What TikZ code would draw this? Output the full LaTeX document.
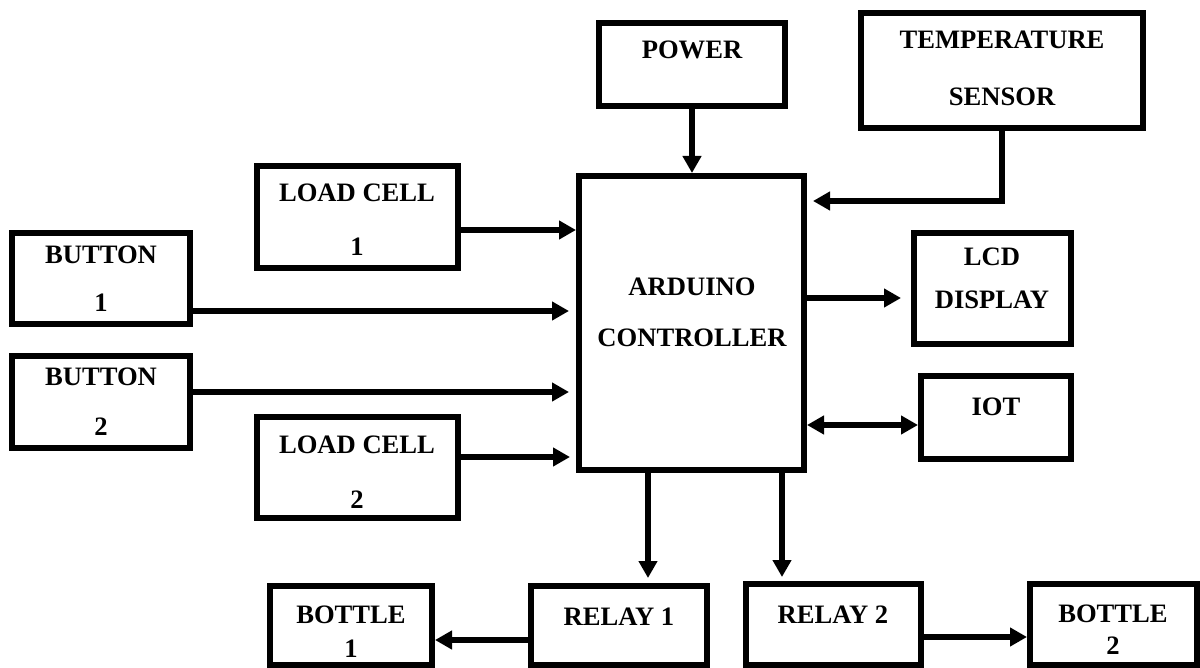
\documentclass[tikz,border=0pt]{standalone}
\usepackage{fontspec}
\setmainfont{Liberation Serif}
\usetikzlibrary{arrows.meta,fit}
\begin{document}
\begin{tikzpicture}[x=0.5pt,y=-0.5pt,
  box/.style={draw=black,line width=3pt,inner sep=0pt,rectangle},
  lbl/.style={font=\fontsize{13.3}{16}\selectfont\bfseries,inner sep=0pt},
  arr/.style={line width=2.8pt,-{Triangle[length=8.5pt,width=9pt]}},
  darr/.style={line width=2.8pt,{Triangle[length=8.5pt,width=9pt]}-{Triangle[length=8.5pt,width=9pt]}}]
\useasboundingbox (0,0) rectangle (1200,668);
% boxes
\node[box,fit={(599,23) (785,106)}] (power) {};
\node[box,fit={(861,13) (1143,128)}] (temp) {};
\node[box,fit={(257,166) (458,268)}] (lc1) {};
\node[box,fit={(12,233) (190,324)}] (btn1) {};
\node[box,fit={(12,356) (190,448)}] (btn2) {};
\node[box,fit={(257,417) (458,518)}] (lc2) {};
\node[box,fit={(579,176) (804,470)}] (ard) {};
\node[box,fit={(914,233) (1071,344)}] (lcd) {};
\node[box,fit={(921,376) (1071,459)}] (iot) {};
\node[box,fit={(531,586) (707,665)}] (relay1) {};
\node[box,fit={(746,584) (921,665)}] (relay2) {};
\node[box,fit={(270,586) (432,665)}] (bottle1) {};
\node[box,fit={(1030,584) (1197,665)}] (bottle2) {};
% texts
\node[lbl] (tpower) at (692,50) {POWER};
\node[lbl] (ttemp1) at (1002,40) {TEMPERATURE};
\node[lbl] (ttemp2) at (1002,97) {SENSOR};
\node[lbl] (tlc1a) at (357,193) {LOAD CELL};
\node[lbl] (tlc1b) at (357,247) {1};
\node[lbl] (tb1a) at (101,255) {BUTTON};
\node[lbl] (tb1b) at (101,303) {1};
\node[lbl] (tb2a) at (101,377) {BUTTON};
\node[lbl] (tb2b) at (101,427) {2};
\node[lbl] (tlc2a) at (357,445) {LOAD CELL};
\node[lbl] (tlc2b) at (357,500) {2};
\node[lbl] (tard1) at (692,287) {ARDUINO};
\node[lbl] (tard2) at (692,338) {CONTROLLER};
\node[lbl] (tlcd1) at (992,257) {LCD};
\node[lbl] (tlcd2) at (992,300) {DISPLAY};
\node[lbl] (tiot) at (996,407) {IOT};
\node[lbl] (tr1) at (619,617) {RELAY 1};
\node[lbl] (tr2) at (833,615) {RELAY 2};
\node[lbl] (tbo1a) at (351,615) {BOTTLE};
\node[lbl] (tbo1b) at (351,649) {1};
\node[lbl] (tbo2a) at (1113,614) {BOTTLE};
\node[lbl] (tbo2b) at (1113,646) {2};
% helper coordinates
\coordinate (y230) at (0,230);
\coordinate (y311) at (0,311);
\coordinate (y392) at (0,392);
\coordinate (y457) at (0,457);
\coordinate (y298) at (0,298);
\coordinate (y425) at (0,425);
\coordinate (y640) at (0,640);
\coordinate (y637) at (0,637);
\coordinate (x648) at (648,0);
\coordinate (x782) at (782,0);
\coordinate (tempin) at (813,201);
% connectors
\draw[arr] (power) -- (power |- ard.north);
\draw[arr] (temp.south) |- (tempin);
\draw[arr] (lc1.east |- y230) -- (ard.west |- y230);
\draw[arr,shorten >=3.5pt] (btn1.east |- y311) -- (ard.west |- y311);
\draw[arr,shorten >=3.5pt] (btn2.east |- y392) -- (ard.west |- y392);
\draw[arr,shorten >=3pt] (lc2.east |- y457) -- (ard.west |- y457);
\draw[arr,shorten >=5pt] (ard.east |- y298) -- (lcd.west |- y298);
\draw[darr] (ard.east |- y425) -- (iot.west |- y425);
\draw[arr,shorten >=2.5pt] (ard.south -| x648) -- (relay1.north -| x648);
\draw[arr,shorten >=2pt] (ard.south -| x782) -- (relay2.north -| x782);
\draw[arr] (relay1.west |- y640) -- (bottle1.east |- y640);
\draw[arr] (relay2.east |- y637) -- (bottle2.west |- y637);
\end{tikzpicture}
\end{document}
